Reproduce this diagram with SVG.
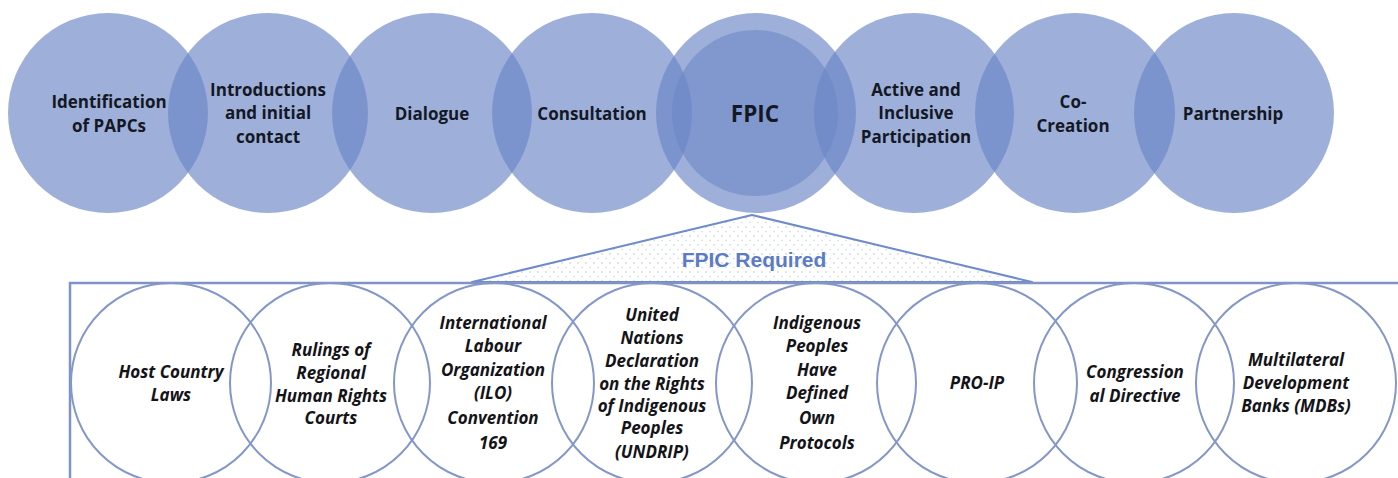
<svg xmlns="http://www.w3.org/2000/svg" width="1398" height="478" viewBox="0 0 1398 478">
  <defs>
    <pattern id="dots" width="8" height="9" patternUnits="userSpaceOnUse">
      <rect width="8" height="9" fill="#ffffff"/>
      <circle cx="2" cy="2" r="0.7" fill="#a9b7d8"/>
      <circle cx="6" cy="6.5" r="0.7" fill="#c4cde3"/>
    </pattern>
    <style>
      .stage { fill: #6a85c6; fill-opacity: 0.65; }
      .core { fill: #6a85c6; fill-opacity: 0.55; }
      .basis { fill: none; stroke: #8497c8; stroke-width: 2; }
      .top { font-family: "Open Sans", Lato, sans-serif; font-weight: 700; font-size: 17px; fill: #141824; text-anchor: middle; }
      .big { font-size: 22.5px; }
      .low { font-family: "Open Sans", Lato, sans-serif; font-weight: 700; font-style: italic; font-size: 17px; fill: #141418; text-anchor: middle; }
      .req { font-family: "Liberation Sans", Arial, sans-serif; font-weight: 700; font-size: 21px; fill: #5b7cc4; text-anchor: middle; }
    </style>
  </defs>
  <rect width="1398" height="478" fill="#ffffff"/>

  <!-- engagement stages, top row -->
  <g id="stage-identification"><circle class="stage" cx="108" cy="113" r="100"/>
    <text class="top" x="109" y="108">Identification</text><text class="top" x="109" y="132">of PAPCs</text></g>
  <g id="stage-introductions"><circle class="stage" cx="268" cy="113" r="100"/>
    <text class="top" x="268" y="96">Introductions</text><text class="top" x="268" y="119">and initial</text><text class="top" x="268" y="143">contact</text></g>
  <g id="stage-dialogue"><circle class="stage" cx="432" cy="113" r="100"/>
    <text class="top" x="432" y="120">Dialogue</text></g>
  <g id="stage-consultation"><circle class="stage" cx="592" cy="113" r="100"/>
    <text class="top" x="592" y="120">Consultation</text></g>
  <g id="stage-fpic"><circle class="stage" cx="756" cy="113" r="100"/>
    <circle class="core" cx="755" cy="113" r="83"/>
    <text class="top big" x="755" y="122">FPIC</text></g>
  <g id="stage-participation"><circle class="stage" cx="914" cy="113" r="100"/>
    <text class="top" x="916" y="96">Active and</text><text class="top" x="916" y="119">Inclusive</text><text class="top" x="916" y="143">Participation</text></g>
  <g id="stage-cocreation"><circle class="stage" cx="1075" cy="113" r="100"/>
    <text class="top" x="1073" y="108">Co-</text><text class="top" x="1073" y="132">Creation</text></g>
  <g id="stage-partnership"><circle class="stage" cx="1234" cy="113" r="100"/>
    <text class="top" x="1233" y="120">Partnership</text></g>

  <!-- callout from FPIC down to the frame of its legal bases -->
  <g id="connectors">
    <polygon points="752,215 472,282 1032,282" fill="url(#dots)" stroke="#6f8bcb" stroke-width="2" stroke-linejoin="round"/>
    <text class="req" x="754" y="267">FPIC Required</text>
  </g>

  <g id="frame">
    <polyline points="70,478 70,283 1398,283" fill="none" stroke="#8193c5" stroke-width="2.5"/>
  </g>

  <!-- sources that make FPIC required -->
  <g id="basis-host-laws"><circle class="basis" cx="171" cy="383" r="100"/>
    <text class="low" x="171" y="378">Host Country</text><text class="low" x="171" y="401">Laws</text></g>
  <g id="basis-regional-courts"><circle class="basis" cx="330" cy="383" r="100"/>
    <text class="low" x="331" y="356">Rulings of</text><text class="low" x="331" y="379">Regional</text><text class="low" x="331" y="402">Human Rights</text><text class="low" x="331" y="424">Courts</text></g>
  <g id="basis-ilo169"><circle class="basis" cx="494" cy="383" r="100"/>
    <text class="low" x="493" y="329">International</text><text class="low" x="493" y="352">Labour</text><text class="low" x="493" y="376">Organization</text><text class="low" x="493" y="399">(ILO)</text><text class="low" x="493" y="424">Convention</text><text class="low" x="493" y="449">169</text></g>
  <g id="basis-undrip"><circle class="basis" cx="652" cy="383" r="100"/>
    <text class="low" x="652" y="321">United</text><text class="low" x="652" y="344">Nations</text><text class="low" x="652" y="367">Declaration</text><text class="low" x="652" y="390">on the Rights</text><text class="low" x="652" y="412">of Indigenous</text><text class="low" x="652" y="434">Peoples</text><text class="low" x="652" y="458">(UNDRIP)</text></g>
  <g id="basis-own-protocols"><circle class="basis" cx="816" cy="383" r="100"/>
    <text class="low" x="817" y="329">Indigenous</text><text class="low" x="817" y="352">Peoples</text><text class="low" x="817" y="376">Have</text><text class="low" x="817" y="399">Defined</text><text class="low" x="817" y="424">Own</text><text class="low" x="817" y="449">Protocols</text></g>
  <g id="basis-pro-ip"><circle class="basis" cx="977" cy="383" r="100"/>
    <text class="low" x="977" y="389">PRO-IP</text></g>
  <g id="basis-congress"><circle class="basis" cx="1134" cy="383" r="100"/>
    <text class="low" x="1135" y="378">Congression</text><text class="low" x="1135" y="402">al Directive</text></g>
  <g id="basis-mdbs"><circle class="basis" cx="1296" cy="383" r="100"/>
    <text class="low" x="1296" y="366">Multilateral</text><text class="low" x="1296" y="389">Development</text><text class="low" x="1296" y="412">Banks (MDBs)</text></g>
</svg>
